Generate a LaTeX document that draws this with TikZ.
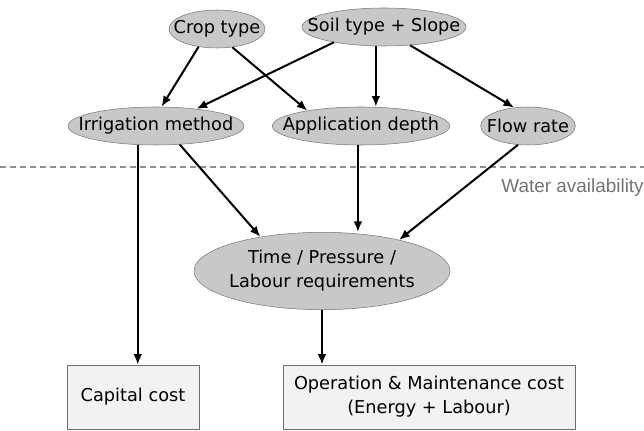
\documentclass[tikz,border=0pt]{standalone}
\usepackage{fontspec}
\setmainfont{DejaVu Sans}
\newfontfamily\waterfont{Liberation Sans}
\usepackage{tikz}
\usetikzlibrary{arrows.meta,calc,shapes.geometric}
\definecolor{ovalfill}{RGB}{200,200,200}
\definecolor{ovalline}{RGB}{120,120,120}
\definecolor{boxfill}{RGB}{242,242,242}
\definecolor{boxline}{RGB}{110,110,110}
\definecolor{watergray}{RGB}{115,115,115}
\newcommand{\zw}[1]{\makebox[0pt]{#1}}

\begin{document}
\begin{tikzpicture}[x=.75pt,y=-.75pt,font=\fontsize{13.3}{18}\selectfont,
    param/.style={ellipse,draw=ovalline,fill=ovalfill,inner sep=0pt,minimum height=28.5pt},
    costbox/.style={rectangle,draw=boxline,fill=boxfill,align=center,minimum height=48pt},
    link/.style={line width=1.5pt,-{Latex[length=8pt,width=6.5pt]}},
    waterline/.style={draw=watergray!80,line width=.8pt,dash pattern=on 4.5pt off 3pt}]
  \useasboundingbox (0,0) rectangle (644,431);
  % top row
  \node[param,minimum width=72pt] (crop) at (217,29) {\zw{Crop type}};
  \node[param,minimum width=123pt] (soil) at (384,27) {\zw{Soil type + Slope}};
  % second row
  \node[param,minimum width=132pt] (irr) at (156,126) {\zw{Irrigation method}};
  \node[param,minimum width=133pt] (app) at (361,126) {\zw{Application depth}};
  \node[param,minimum width=71pt] (flow) at (528,126) {\zw{Flow rate}};
  % water availability
  \coordinate (wl) at (0,167);
  \coordinate (wr) at (644,167);
  \draw[waterline] (wl) -- (wr);
  \node[anchor=base east,inner sep=0pt,text=watergray,font=\waterfont\fontsize{14.2}{16}\selectfont] (water) at (644,193) {Water availability};
  % requirements and costs
  \node[param,minimum width=192pt,minimum height=58pt] (time) at (322,271)
    {\zw{\begin{tabular}{@{}c@{}}Time / Pressure /\\Labour requirements\end{tabular}}};
  \node[costbox,minimum width=99pt] (cap) at (133,397) {Capital cost};
  \node[costbox,minimum width=219pt] (om) at (429,397)
    {Operation \& Maintenance cost\\(Energy + Labour)};
  % arrows
  \draw[link] (crop.-136) -- (irr.74);
  \draw[link] (crop.-50) -- (app.164);
  \draw[link] (soil.-163) -- (irr.23);
  \draw[link] (soil.-113) -- (soil.-113 |- app.north);
  \draw[link] (soil.-35) -- (flow.127);
  \draw[link] (irr.-134) -- (irr.-134 |- cap.north);
  \draw[link] (irr.-38) -- (time.151);
  \draw[link] (app.-99) -- (app.-99 |- time.north);
  \draw[link] (flow.-118) -- (time.22);
  \draw[link] (time.south) -- (time.south |- om.north);
\end{tikzpicture}
\end{document}
